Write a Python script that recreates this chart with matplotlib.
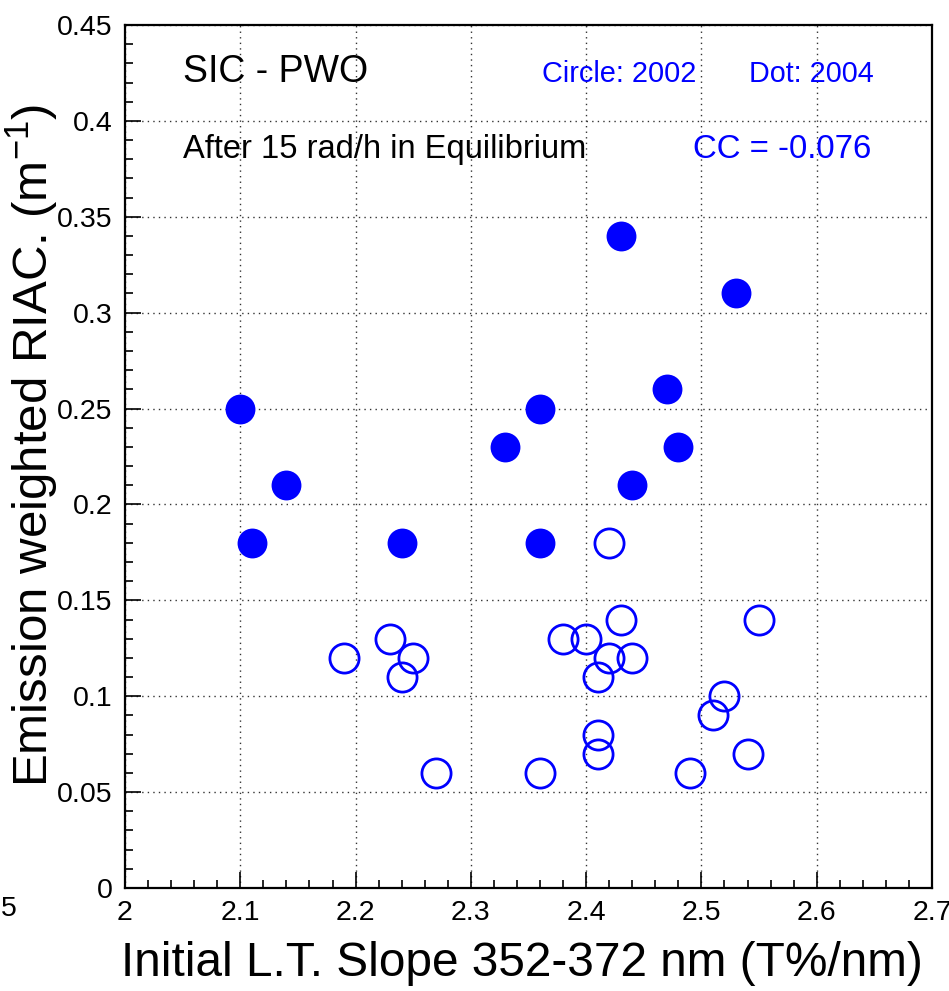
import matplotlib
matplotlib.use("Agg")
import matplotlib.pyplot as plt
from matplotlib.ticker import MultipleLocator

plt.rcParams["font.family"] = ["Liberation Sans", "DejaVu Sans"]
plt.rcParams["mathtext.fontset"] = "custom"
plt.rcParams["mathtext.rm"] = "Liberation Sans"
plt.rcParams["mathtext.it"] = "Liberation Sans"

# 2002 measurements (open circles)
slope_2002 = [2.19, 2.23, 2.25, 2.24, 2.27, 2.36, 2.38, 2.40, 2.42, 2.41,
              2.43, 2.44, 2.42, 2.41, 2.41, 2.49, 2.51, 2.52, 2.54, 2.55]
riac_2002 = [0.12, 0.13, 0.12, 0.11, 0.06, 0.06, 0.13, 0.13, 0.12, 0.11,
             0.14, 0.12, 0.18, 0.08, 0.07, 0.06, 0.09, 0.10, 0.07, 0.14]

# 2004 measurements (filled dots)
slope_2004 = [2.10, 2.11, 2.14, 2.24, 2.33, 2.36, 2.36, 2.43, 2.47, 2.48, 2.44, 2.53]
riac_2004 = [0.25, 0.18, 0.21, 0.18, 0.23, 0.25, 0.18, 0.34, 0.26, 0.23, 0.21, 0.31]

BLUE = "#0000ff"

fig = plt.figure(figsize=(9.49, 9.91), dpi=100)
ax = fig.add_axes([125 / 949, 1 - 888 / 991, (932 - 125) / 949, (888 - 25) / 991])

ax.plot(slope_2002, riac_2002, linestyle="none", marker="o", markersize=21,
        markerfacecolor="none", markeredgecolor=BLUE, markeredgewidth=2.0,
        clip_on=False)
ax.plot(slope_2004, riac_2004, linestyle="none", marker="o", markersize=21.5,
        markerfacecolor=BLUE, markeredgecolor=BLUE, markeredgewidth=0,
        clip_on=False)

ax.set_xlim(2.0, 2.7)
ax.set_ylim(0, 0.45)
ax.xaxis.set_major_locator(MultipleLocator(0.1))
ax.xaxis.set_minor_locator(MultipleLocator(0.02))
ax.yaxis.set_major_locator(MultipleLocator(0.05))
ax.yaxis.set_minor_locator(MultipleLocator(0.01))
ax.set_xticklabels([f"{v:g}" for v in ax.get_xticks()])
ax.set_yticklabels([f"{v:g}" for v in ax.get_yticks()])

ax.grid(True, which="major", color="#333333", linestyle=(0, (1, 3)), linewidth=1.0)
ax.set_axisbelow(True)
ax.tick_params(which="both", direction="in", top=False, right=False,
               labelsize=20.5, width=1.2, color="black")
ax.tick_params(axis="x", which="major", length=11.5, pad=9)
ax.tick_params(axis="y", which="major", length=11.5, pad=9)
ax.tick_params(which="minor", length=6)
for sp in ax.spines.values():
    sp.set_linewidth(1.6)

# axis titles and the stray edge label, placed in figure pixels
fig.text(522 / 949, 1 - 963 / 991, "Initial L.T. Slope 352-372 nm (T%/nm)",
         ha="center", va="center", fontsize=34.4)
fig.text(32 / 949, 1 - 445 / 991, r"Emission weighted RIAC. (m$^{-1}$)",
         ha="center", va="center", rotation=90, fontsize=35.5)
fig.text(1 / 949, 1 - 909 / 991, "5", ha="left", va="center", fontsize=20.5)

ax.text(183 / 949, 1 - 82 / 991, "SIC - PWO", transform=fig.transFigure,
        ha="left", va="baseline", fontsize=27)
ax.text(183 / 949, 1 - 158 / 991, "After 15 rad/h in Equilibrium",
        transform=fig.transFigure, ha="left", va="baseline", fontsize=23.5)
ax.text(542 / 949, 1 - 82 / 991, "Circle: 2002", transform=fig.transFigure,
        ha="left", va="baseline", fontsize=20.8, color=BLUE)
ax.text(749 / 949, 1 - 82 / 991, "Dot: 2004", transform=fig.transFigure,
        ha="left", va="baseline", fontsize=20.7, color=BLUE)
ax.text(693 / 949, 1 - 158 / 991, "CC = -0.076", transform=fig.transFigure,
        ha="left", va="baseline", fontsize=23.8, color=BLUE)

fig.savefig("out.png", dpi=100)
